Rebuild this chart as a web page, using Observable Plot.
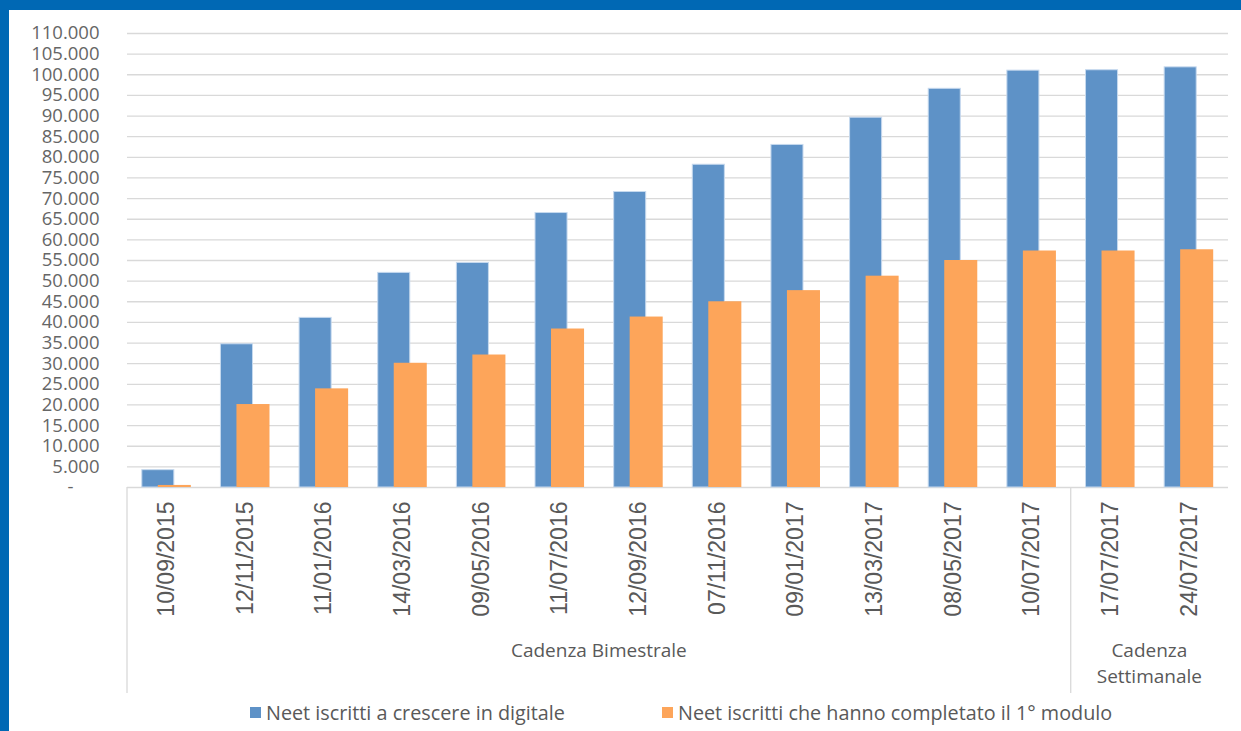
<!DOCTYPE html>
<html>
<head>
<meta charset="utf-8">
<script src="https://cdn.jsdelivr.net/npm/d3@7"></script>
<script src="https://cdn.jsdelivr.net/npm/@observablehq/plot@0.6"></script>
<style>
  html, body { margin: 0; padding: 0; background: #fff; }
  #wrap { position: relative; width: 1241px; height: 731px; overflow: hidden; background: #fff; }
  #chart { position: absolute; left: 0; top: 0; }
  .band-top { position: absolute; left: 0; top: 0; width: 1241px; height: 10px; background: #0068b4; }
  .band-left { position: absolute; left: 0; top: 0; width: 9px; height: 731px; background: #0068b4; }
  #legend { position: absolute; top: 697px; left: 0; width: 1241px; height: 34px;
            font-family: "Open Sans", sans-serif; font-size: 19.8px; color: #595959; }
  .item { position: absolute; top: 2px; display: flex; align-items: center; white-space: nowrap; }
  .sw { width: 11px; height: 11px; margin-right: 5px; }
</style>
</head>
<body>
<div id="wrap">
  <div id="chart"></div>
  <div id="legend"></div>
  <div class="band-top"></div>
  <div class="band-left"></div>
</div>
<script>
const dates = ["10/09/2015","12/11/2015","11/01/2016","14/03/2016","09/05/2016","11/07/2016","12/09/2016",
               "07/11/2016","09/01/2017","13/03/2017","08/05/2017","10/07/2017","17/07/2017","24/07/2017"];
const neetIscritti   = [4200, 34700, 41100, 52000, 54400, 66500, 71600, 78200, 83000, 89600, 96600, 101000, 101100, 101800];
const neetCompletato = [500, 20100, 23900, 30100, 32100, 38400, 41300, 45000, 47700, 51200, 55000, 57300, 57300, 57600];
const seriesNames = ["Neet iscritti a crescere in digitale", "Neet iscritti che hanno completato il 1° modulo"];
const groups = [
  {label: ["Cadenza Bimestrale"], from: "10/09/2015", to: "10/07/2017"},
  {label: ["Cadenza", "Settimanale"], from: "17/07/2017", to: "24/07/2017"}
];
const yTicks = d3.range(0, 110001, 5000);

const BLUE = "#5e92c7", ORANGE = "#fda55a", GRID = "#d9d9d9", TEXT = "#595959";

const rows = dates.map((d, i) => ({date: d, iscritti: neetIscritti[i], completato: neetCompletato[i]}));
const fmt = d => d === 0 ? "-\u2007\u2007\u2008" : d3.format(",")(d).replace(/,/g, ".");

const plot = Plot.plot({
  width: 1241, height: 697,
  marginTop: 33, marginLeft: 127, marginRight: 13, marginBottom: 210,
  style: {fontFamily: "Open Sans", background: "transparent", overflow: "visible"},
  x: {domain: dates, padding: 0, round: false, label: null},
  y: {domain: [0, 110000], label: null},
  marks: [
    Plot.gridY(yTicks, {stroke: GRID, strokeOpacity: 1, strokeWidth: 1.3}),
    Plot.axisY({ticks: yTicks, tickSize: 0, tickPadding: 28, tickFormat: fmt, fontSize: 18.5,
                fontFamily: "Open Sans", fill: "#666", label: null}),
    Plot.axisX({tickSize: 0, tickRotate: -90, tickPadding: 14, fontSize: 23,
                fontFamily: "Liberation Sans", fill: TEXT, label: null}),
    Plot.barY(rows, {x: "date", y: "iscritti", fill: BLUE, stroke: "#c6d9ee", strokeWidth: 1,
                     insetLeft: 23.3, insetRight: 23.3, dx: -8.5}),
    Plot.barY(rows, {x: "date", y: "completato", fill: ORANGE,
                     insetLeft: 22.8, insetRight: 22.8, dx: 8})
  ]
});
document.getElementById("chart").appendChild(plot);

// category group separators and labels from the x scale
const xs = plot.scale("x");
const bw = xs.bandwidth;
const y0 = 697 - 210;
const svg = d3.select(plot);
const g = svg.append("g");
groups.forEach(gr => {
  const a = xs.apply(gr.from), b = xs.apply(gr.to) + bw;
  g.append("line").attr("x1", a).attr("x2", a).attr("y1", y0).attr("y2", y0 + 206)
    .attr("stroke", GRID).attr("stroke-width", 1.3);
  const t = g.append("text").attr("text-anchor", "middle").attr("fill", TEXT)
    .attr("font-family", "Open Sans").attr("font-size", 19);
  gr.label.forEach((l, i) => {
    t.append("tspan").attr("x", (a + b) / 2).attr("y", y0 + 170 + i * 26).text(l);
  });
});

// legend
const leg = document.getElementById("legend");
[[seriesNames[0], BLUE, 250], [seriesNames[1], ORANGE, 662]].forEach(([name, c, left]) => {
  const it = document.createElement("div");
  it.className = "item";
  it.style.left = left + "px";
  it.innerHTML = `<span class="sw" style="background:${c}"></span><span>${name}</span>`;
  leg.appendChild(it);
});
</script>
</body>
</html>
